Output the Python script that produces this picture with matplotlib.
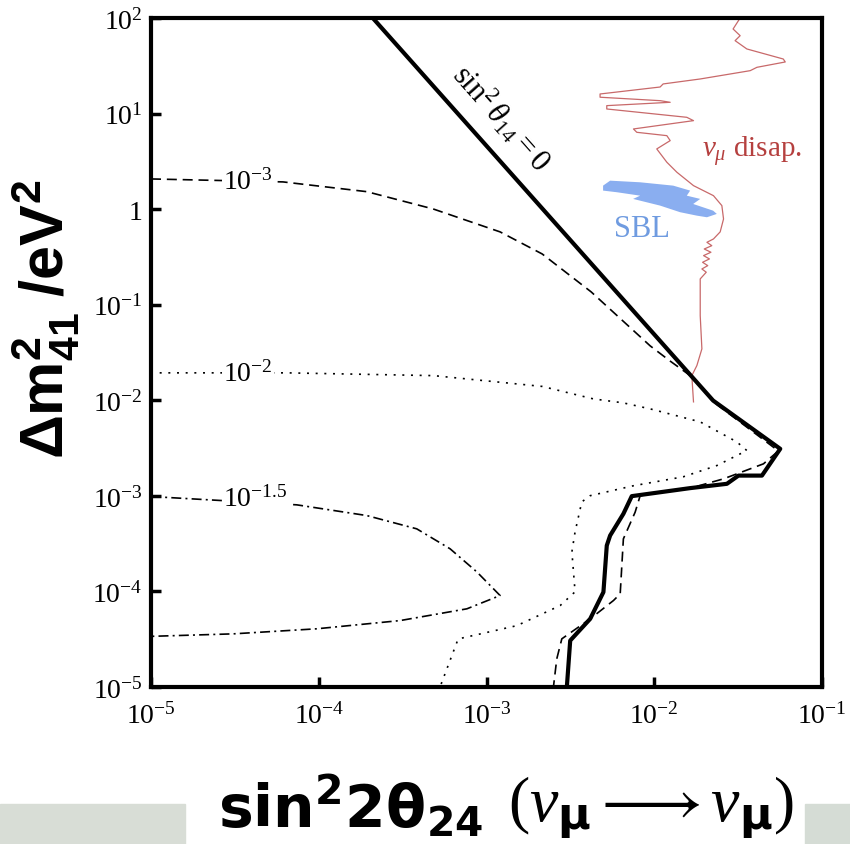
import numpy as np
import matplotlib
matplotlib.use("Agg")
import matplotlib.pyplot as plt
from matplotlib.patches import Rectangle
from matplotlib.ticker import FixedLocator, FixedFormatter, NullLocator

plt.rcParams['font.family'] = 'Liberation Serif'
plt.rcParams['mathtext.fontset'] = 'custom'
plt.rcParams['mathtext.rm'] = 'Liberation Serif'
plt.rcParams['mathtext.it'] = 'Liberation Serif:italic'
plt.rcParams['mathtext.bf'] = 'DejaVu Sans:bold'
plt.rcParams['mathtext.sf'] = 'Liberation Sans:bold'

# values, as log10(sin^2 2theta24), log10(dm2_41)
solid_x = [-3.678, -1.649, -1.249, -1.358, -1.498, -1.567, -1.786, -2.134,
           -2.184, -2.263, -2.283, -2.303, -2.382, -2.501, -2.521]
solid_y = [2.0, -2.003, -2.508, -2.788, -2.788, -2.874, -2.919, -3.003,
           -3.188, -3.415, -3.520, -4.007, -4.287, -4.514, -5.0]

dash_x = [-5.0, -4.213, -3.714, -3.318, -2.919, -2.668, -2.376, -2.024, -1.905,
          -1.775, -1.649, -1.26, -1.349, -1.508, -1.587, -1.766, -2.084, -2.114,
          -2.184, -2.203, -2.243, -2.382, -2.551, -2.581, -2.601]
dash_y = [0.316, 0.285, 0.183, 0.002, -0.238, -0.469, -0.866, -1.431, -1.59,
          -1.755, -2.015, -2.53, -2.665, -2.770, -2.822, -2.910, -2.998, -3.171,
          -3.450, -4.025, -4.095, -4.287, -4.496, -4.705, -5.0]

dot_x = [-5.0, -4.189, -3.315, -2.668, -2.364, -2.185, -2.024, -1.726, -1.508,
         -1.448, -1.508, -1.627, -1.828, -2.126, -2.382, -2.432, -2.472, -2.491,
         -2.472, -2.561, -2.819, -3.169, -3.277]
dot_y = [-1.713, -1.713, -1.742, -1.855, -1.985, -2.027, -2.090, -2.226, -2.435,
         -2.526, -2.578, -2.683, -2.801, -2.895, -2.998, -3.063, -3.377, -3.586,
         -4.004, -4.148, -4.358, -4.497, -5.0]

dd_x = [-5.0, -4.131, -3.714, -3.416, -3.217, -3.058, -2.919, -3.117, -3.515,
        -4.012, -4.511, -5.0]
dd_y = [-3.007, -3.094, -3.206, -3.345, -3.554, -3.795, -4.043, -4.182, -4.305,
        -4.391, -4.444, -4.470]

numu_x = [-1.488, -1.530, -1.488, -1.518, -1.448, -1.231, -1.219, -1.388, -1.428,
          -1.726, -1.947, -1.965, -2.323, -2.323, -1.965, -1.905, -2.283, -2.283,
          -1.806, -1.766, -2.124, -2.104, -1.925, -1.905, -1.985, -1.925, -1.865,
          -1.766, -1.647, -1.597, -1.587, -1.607, -1.647, -1.686, -1.657, -1.702,
          -1.662, -1.706, -1.671, -1.712, -1.681, -1.716, -1.690, -1.726, -1.726,
          -1.726, -1.716, -1.746, -1.776, -1.766]
numu_y = [2.0, 1.885, 1.815, 1.763, 1.676, 1.571, 1.540, 1.484, 1.449,
          1.362, 1.310, 1.278, 1.205, 1.171, 1.135, 1.118, 1.083, 1.048,
          0.961, 0.926, 0.839, 0.804, 0.769, 0.717, 0.630, 0.491, 0.386,
          0.246, 0.141, 0.037, -0.103, -0.238, -0.312, -0.347, -0.382, -0.417,
          -0.451, -0.486, -0.521, -0.556, -0.591, -0.626, -0.660, -0.730, -0.835,
          -1.114, -1.462, -1.637, -1.742, -2.017]

sbl_x = [-2.305, -2.263, -2.084, -1.887, -1.786, -1.806, -1.726, -1.768, -1.649,
         -1.627, -1.686, -1.746, -1.846, -1.965, -2.126, -2.084, -2.223, -2.305]
sbl_y = [0.246, 0.298, 0.281, 0.246, 0.194, 0.141, 0.107, 0.054, -0.016,
         -0.050, -0.085, -0.068, -0.032, 0.037, 0.107, 0.141, 0.177, 0.194]

xticks = [1e-5, 1e-4, 1e-3, 1e-2, 1e-1]
xticklabels = [r'$10^{-5}$', r'$10^{-4}$', r'$10^{-3}$', r'$10^{-2}$', r'$10^{-1}$']
yticks = [1e-5, 1e-4, 1e-3, 1e-2, 1e-1, 1, 1e1, 1e2]
yticklabels = [r'$10^{-5}$', r'$10^{-4}$', r'$10^{-3}$', r'$10^{-2}$', r'$10^{-1}$',
               '1', r'$10^{1}$', r'$10^{2}$']

def p(v):
    return 10.0 ** np.asarray(v)

fig = plt.figure(figsize=(8.5, 8.45), dpi=100)
ax = fig.add_axes([151/850, 157/845, 671/850, 669/845])
ax.set_xscale('log'); ax.set_yscale('log')
ax.set_xlim(1e-5, 1e-1); ax.set_ylim(1e-5, 1e2)

ax.fill(p(sbl_x), p(sbl_y), color='#8aaef0', lw=0)
ax.plot(p(numu_x), p(numu_y), color='#c8696a', lw=0.9)
ax.plot(p(dash_x), p(dash_y), color='k', lw=1.2, dashes=(6, 3.5))
ax.plot(p(dot_x), p(dot_y), color='k', lw=1.2, dashes=(1.2, 4))
ax.plot(p(dd_x), p(dd_y), color='k', lw=1.2, dashes=(6, 2.5, 1.2, 2.5))
ax.plot(p(solid_x), p(solid_y), color='k', lw=3)

box = dict(facecolor='white', edgecolor='none', pad=1)
for txt, yy in [(r'$10^{-3}$', 0.211), (r'$10^{-2}$', -1.797), (r'$10^{-1.5}$', -3.105)]:
    ax.text(10**-4.571, 10**yy, txt, fontsize=20, ha='left', va='baseline', bbox=box)

ax.text(10**-2.913, 10**0.964, r'$\sin^2\theta_{14} = 0$', fontsize=22,
        rotation=-48.4, ha='center', va='center', rotation_mode='anchor')
ax.text(10**-1.714, 10**0.557, r'$\nu_{\mu}$ disap.', fontsize=21,
        color='#b5403f', ha='left', va='baseline')
ax.text(10**-2.074, 10**-0.277, 'SBL', fontsize=22, color='#6f9be0',
        ha='center', va='baseline')

for s in ax.spines.values():
    s.set_linewidth(3)
ax.xaxis.set_major_locator(FixedLocator(xticks))
ax.xaxis.set_major_formatter(FixedFormatter(xticklabels))
ax.yaxis.set_major_locator(FixedLocator(yticks))
ax.yaxis.set_major_formatter(FixedFormatter(yticklabels))
ax.xaxis.set_minor_locator(NullLocator()); ax.yaxis.set_minor_locator(NullLocator())
ax.tick_params(direction='in', length=7, width=2.5, labelsize=20)
ax.tick_params(axis='x', pad=11)
ax.tick_params(axis='y', pad=6)

fig.text(46/850, 1 - 319/845, r'$\mathsf{\Delta m^2_{41}\ /eV^2}$', fontsize=44,
         rotation=90, ha='center', va='center')
fig.text(218/850, 18/845, r'$\mathbf{sin^2 2\theta_{24}}$', fontsize=42,
         ha='left', va='baseline')
fig.text(508/850, 24/845, r'$(\nu_{\mathbf{\mu}} \longrightarrow \nu_{\mathbf{\mu}})$',
         fontsize=46, ha='left', va='baseline')

fig.add_artist(Rectangle((0, 0), 185/850, 40/845, transform=fig.transFigure,
                         color='#d8ddd6', zorder=-1))
fig.add_artist(Rectangle((805/850, 0), 45/850, 40/845, transform=fig.transFigure,
                         color='#d5dcd5', zorder=-1))

fig.savefig('out.png', dpi=100)
